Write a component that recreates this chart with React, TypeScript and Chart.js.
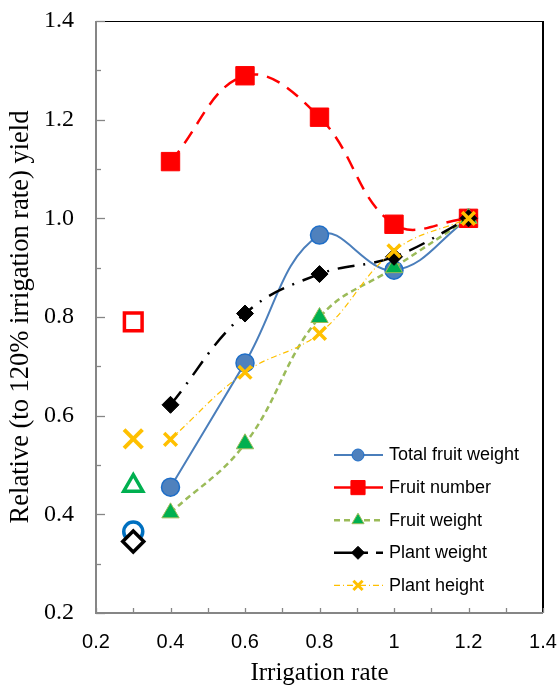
import React, { useEffect, useRef } from "react";
import { Chart, registerables } from "chart.js";
import { drawPoint } from "chart.js/helpers";

Chart.register(...registerables);

// ---------- data ----------
const seriesNames = ["Total fruit weight", "Fruit number", "Fruit weight", "Plant weight", "Plant height"];
const irrigationRates = [0.4, 0.6, 0.8, 1.0, 1.2];
const totalFruitWeight = [0.455, 0.707, 0.966, 0.895, 1.0];
const fruitNumber = [1.115, 1.289, 1.205, 0.988, 1.0];
const fruitWeight = [0.403, 0.543, 0.799, 0.9, 1.0];
const plantWeight = [0.622, 0.807, 0.887, 0.922, 1.0];
const plantHeight = [0.552, 0.688, 0.767, 0.934, 1.0];
// separate (hollow) points at the lowest irrigation rate, in series order
const separateRate = 0.3;
const separateValues = [0.365, 0.79, 0.458, 0.345, 0.553];

const xTickLabels = ["0.2", "0.4", "0.6", "0.8", "1", "1.2", "1.4"];
const yTickLabels = ["0.2", "0.4", "0.6", "0.8", "1.0", "1.2", "1.4"];
const xTitle = "Irrigation rate";
const yTitle = "Relative (to 120% irrigation rate) yield";

// ---------- styles ----------
const seriesValues = [totalFruitWeight, fruitNumber, fruitWeight, plantWeight, plantHeight];
const lineColors = ["#4A7EBB", "#FF0000", "#9BBB59", "#000000", "#FFC000"];
const lineWidths = [2, 2.5, 2.5, 2.5, 1.2];
const lineDashes: number[][] = [[], [14, 9], [6, 4], [17, 9, 2, 9], [6, 3, 1, 3]];
const legendDashes: number[][] = [[], [], [6, 4], [34, 8, 8, 20], [6, 3, 1, 3]];
const pointStyles = ["circle", "rect", "triangle", "rectRot", "crossRot"];
const pointRadii = [9, 13, 10, 8.5, 9];
const pointFills = ["#4F81BD", "#FF0000", "#00B050", "#000000", "#FFC000"];
const pointBorders = ["#1E6EC8", "#FF0000", "#9BBB59", "#000000", "#FFC000"];
const pointBorderWidths = [1.5, 1, 1, 1, 3.5];
const hollowColors = ["#0070C0", "#FF0000", "#00B050", "#000000", "#FFC000"];
const hollowRadii = [9.5, 12.5, 11, 10.5, 13];
const hollowBorderWidths = [3.5, 3.5, 3.5, 3.5, 4];
const legendRadii = [6, 10, 7, 6.5, 6.5];

const framePlugin = {
  id: "frame",
  afterDraw(chart: any) {
    const { ctx, chartArea: a, scales } = chart;
    const x = scales.x;
    const y = scales.y;
    ctx.save();
    ctx.strokeStyle = "#000";
    ctx.lineWidth = 1;
    ctx.beginPath();
    ctx.moveTo(a.left, a.top + 0.5);
    ctx.lineTo(a.right, a.top + 0.5);
    ctx.stroke();
    ctx.lineWidth = 2;
    ctx.beginPath();
    ctx.moveTo(a.right, a.top);
    ctx.lineTo(a.right, a.bottom);
    ctx.stroke();
    ctx.strokeStyle = "#868686";
    ctx.lineWidth = 2;
    ctx.beginPath();
    ctx.moveTo(a.left, a.top);
    ctx.lineTo(a.left, a.bottom);
    ctx.lineTo(a.right, a.bottom);
    ctx.stroke();
    ctx.lineWidth = 1.3;
    for (let k = 2; k <= 14; k++) {
      const v = k / 10;
      const py = Math.round(y.getPixelForValue(v)) + 0.5;
      const len = k % 2 === 0 ? 9 : 5;
      ctx.beginPath();
      ctx.moveTo(a.left, py);
      ctx.lineTo(a.left + len, py);
      ctx.stroke();
      const px = Math.round(x.getPixelForValue(v)) + 0.5;
      ctx.beginPath();
      ctx.moveTo(px, a.bottom);
      ctx.lineTo(px, a.bottom - 5);
      ctx.stroke();
    }
    ctx.restore();
  },
};

const legendPlugin = {
  id: "insideLegend",
  afterDraw(chart: any) {
    const { ctx } = chart;
    ctx.save();
    seriesNames.forEach((name, i) => {
      const cy = 455 + i * 32.6;
      ctx.strokeStyle = lineColors[i];
      ctx.lineWidth = lineWidths[i];
      ctx.setLineDash(legendDashes[i]);
      ctx.beginPath();
      ctx.moveTo(334, cy);
      ctx.lineTo(383, cy);
      ctx.stroke();
      ctx.setLineDash([]);
      ctx.fillStyle = pointFills[i];
      ctx.strokeStyle = pointBorders[i];
      ctx.lineWidth = i === 4 ? 3 : 1;
      drawPoint(ctx, { pointStyle: pointStyles[i] as any, rotation: 0, radius: legendRadii[i], borderWidth: i === 4 ? 3 : 1 }, 358, cy);
      ctx.fillStyle = "#000";
      ctx.font = "18px 'Liberation Sans', Arial, sans-serif";
      ctx.textAlign = "left";
      ctx.textBaseline = "middle";
      ctx.fillText(name, 389, cy + 0.5);
    });
    ctx.restore();
  },
};

export default function App() {
  const ref = useRef<HTMLCanvasElement>(null);
  useEffect(() => {
    const canvas = ref.current!;
    const datasets: any[] = [];
    seriesNames.forEach((name, i) => {
      datasets.push({
        label: name,
        data: irrigationRates.map((r, j) => ({ x: r, y: seriesValues[i][j] })),
        borderColor: lineColors[i],
        borderWidth: lineWidths[i],
        borderDash: lineDashes[i],
        tension: 0.4,
        fill: false,
        pointStyle: pointStyles[i],
        pointRadius: pointRadii[i],
        pointBackgroundColor: pointFills[i],
        pointBorderColor: pointBorders[i],
        pointBorderWidth: pointBorderWidths[i],
        order: 20 - i * 2,
      });
      datasets.push({
        label: name + " (0.3)",
        data: [{ x: separateRate, y: separateValues[i] }],
        showLine: false,
        pointStyle: pointStyles[i],
        pointRadius: hollowRadii[i],
        pointBackgroundColor: "#FFFFFF",
        pointBorderColor: hollowColors[i],
        pointBorderWidth: hollowBorderWidths[i],
        order: 19 - i * 2,
      });
    });

    const chart = new Chart(canvas, {
      type: "line",
      data: { datasets },
      options: {
        responsive: false,
        animation: false,
        devicePixelRatio: 1,
        layout: { padding: { top: 21, right: 17, left: 0, bottom: 0 } },
        plugins: { legend: { display: false }, tooltip: { enabled: false } },
        scales: {
          x: {
            type: "linear",
            min: 0.2,
            max: 1.4,
            border: { display: false },
            grid: { display: false, drawTicks: false },
            ticks: {
              stepSize: 0.2,
              padding: 17,
              autoSkip: false,
              maxRotation: 0,
              color: "#000",
              font: { family: "'Liberation Sans', Arial, sans-serif", size: 20 },
              callback: (_v: any, idx: number) => xTickLabels[idx] ?? "",
            },
            title: {
              display: true,
              text: xTitle,
              color: "#000",
              font: { family: "'Liberation Serif', 'Times New Roman', serif", size: 25 },
              padding: { top: 0, bottom: 1 },
            },
            afterFit: (s: any) => {
              s.height = 76;
              s.paddingLeft = 0;
              s.paddingRight = 0;
            },
          },
          y: {
            type: "linear",
            min: 0.2,
            max: 1.4,
            border: { display: false },
            grid: { display: false, drawTicks: false },
            ticks: {
              stepSize: 0.2,
              padding: 22,
              autoSkip: false,
              color: "#000",
              font: { family: "'Liberation Serif', 'Times New Roman', serif", size: 24 },
              callback: (_v: any, idx: number) => yTickLabels[idx] ?? "",
            },
            title: {
              display: true,
              text: yTitle,
              color: "#000",
              font: { family: "'Liberation Serif', 'Times New Roman', serif", size: 26.5 },
              padding: { top: 5, bottom: 0 },
            },
            afterFit: (s: any) => {
              s.width = 96;
              s.paddingTop = 0;
              s.paddingBottom = 0;
            },
          },
        },
      } as any,
      plugins: [framePlugin, legendPlugin],
    });
    return () => chart.destroy();
  }, []);
  return (
    <div style={{ position: "absolute", left: 0, top: 0, width: 560, height: 689, background: "#fff" }}>
      <canvas ref={ref} width={560} height={689} style={{ display: "block" }} />
    </div>
  );
}
